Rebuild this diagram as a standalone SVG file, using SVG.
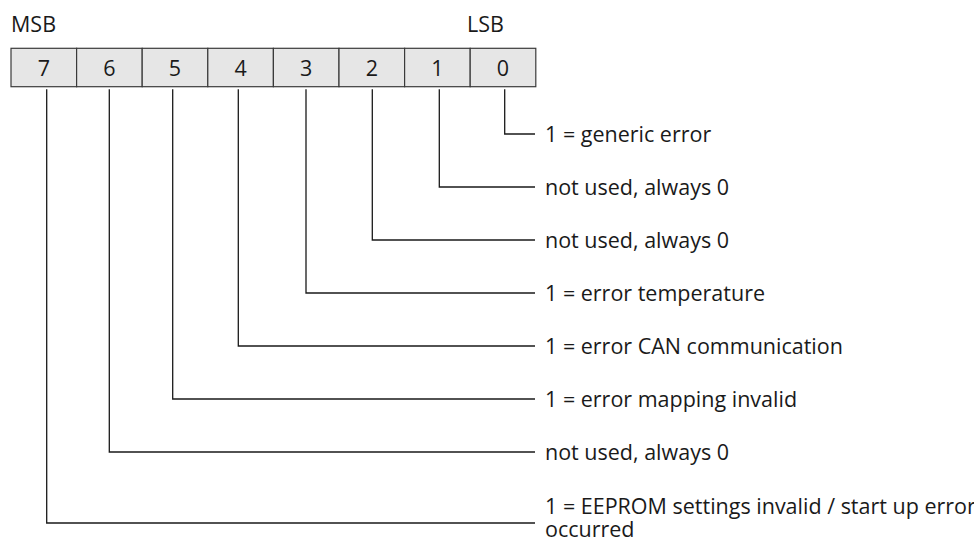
<svg xmlns="http://www.w3.org/2000/svg" width="974" height="543" viewBox="0 0 974 543">
<style>
.cell{fill:#e6e6e6;stroke:#3a3a3a;stroke-width:1.2}
.t{font-family:"Open Sans","Noto Sans","DejaVu Sans",sans-serif;font-size:21.5px;fill:#1a1a1a}
.d{text-anchor:middle}
.c{fill:none;stroke:#1a1a1a;stroke-width:1.3}
</style>
<rect width="974" height="543" fill="#ffffff"/>
<text class="t" x="11" y="31.5">MSB</text>
<text class="t" x="467" y="31.5">LSB</text>
<g id="register">
<g id="bit7"><rect class="cell" x="11" y="48.3" width="65.6" height="38.4"/><text class="t d" x="43.8" y="76.2">7</text></g>
<g id="bit6"><rect class="cell" x="76.6" y="48.3" width="65.6" height="38.4"/><text class="t d" x="109.4" y="76.2">6</text></g>
<g id="bit5"><rect class="cell" x="142.2" y="48.3" width="65.6" height="38.4"/><text class="t d" x="175" y="76.2">5</text></g>
<g id="bit4"><rect class="cell" x="207.8" y="48.3" width="65.6" height="38.4"/><text class="t d" x="240.6" y="76.2">4</text></g>
<g id="bit3"><rect class="cell" x="273.4" y="48.3" width="65.6" height="38.4"/><text class="t d" x="306.2" y="76.2">3</text></g>
<g id="bit2"><rect class="cell" x="339" y="48.3" width="65.6" height="38.4"/><text class="t d" x="371.8" y="76.2">2</text></g>
<g id="bit1"><rect class="cell" x="404.6" y="48.3" width="65.6" height="38.4"/><text class="t d" x="437.4" y="76.2">1</text></g>
<g id="bit0"><rect class="cell" x="470.2" y="48.3" width="65.6" height="38.4"/><text class="t d" x="503" y="76.2">0</text></g>
</g>
<g id="connectors">
<polyline class="c" points="504.7,89.3 504.7,134 535,134"/>
<polyline class="c" points="439.3,89.3 439.3,187 535,187"/>
<polyline class="c" points="372.3,89.3 372.3,240 535,240"/>
<polyline class="c" points="306,89.3 306,293 535,293"/>
<polyline class="c" points="238.3,89.3 238.3,346 535,346"/>
<polyline class="c" points="172.7,89.3 172.7,399 535,399"/>
<polyline class="c" points="109.3,89.3 109.3,452 535,452"/>
<polyline class="c" points="46.7,89.3 46.7,523 535,523"/>
</g>
<g id="labels">
<g id="label0"><text class="t" x="545" y="141.5">1 = generic error</text></g>
<g id="label1"><text class="t" x="545" y="194.5">not used, always 0</text></g>
<g id="label2"><text class="t" x="545" y="247.5">not used, always 0</text></g>
<g id="label3"><text class="t" x="545" y="300.5">1 = error temperature</text></g>
<g id="label4"><text class="t" x="545" y="353.5">1 = error CAN communication</text></g>
<g id="label5"><text class="t" x="545" y="406.5">1 = error mapping invalid</text></g>
<g id="label6"><text class="t" x="545" y="459.5">not used, always 0</text></g>
<g id="label7"><text class="t" x="545" y="514">1 = EEPROM settings invalid / start up error</text><text class="t" x="545" y="537">occurred</text></g>
</g>
</svg>
